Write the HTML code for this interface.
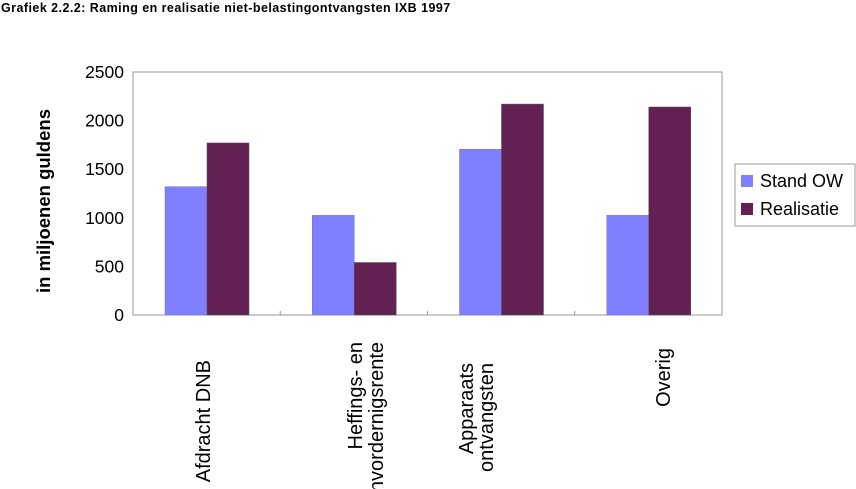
<!DOCTYPE html>
<html><head><meta charset="utf-8"><style>
body{margin:0;background:#fff;}
svg{display:block;font-family:"Liberation Sans",sans-serif;}
</style></head><body>
<svg width="856" height="489">
<text x="1" y="12" font-size="12.5" font-weight="bold" letter-spacing="0.45">Grafiek 2.2.2: Raming en realisatie niet-belastingontvangsten IXB 1997</text>
<g id="plot"></g>
<text transform="translate(50,201) rotate(-90)" text-anchor="middle" font-size="18.5" font-weight="bold">in miljoenen guldens</text>
<rect x="735" y="164" width="120" height="62" fill="#fff" stroke="#999"/>
<rect x="741" y="175" width="12" height="12" fill="#8080ff"/>
<text x="760" y="187" font-size="18">Stand OW</text>
<rect x="741" y="203" width="12" height="12" fill="#632052"/>
<text x="760" y="215" font-size="18">Realisatie</text>
</svg>
<script>
const categories=[["Afdracht DNB"],["Heffings- en","invordernigsrente"],["Apparaats","ontvangsten"],["Overig"]];
const standOW=[1320,1025,1705,1025];
const realisatie=[1770,540,2170,2140];
const yTicks=[0,500,1000,1500,2000,2500];

const NS="http://www.w3.org/2000/svg";
const g=document.getElementById('plot');
const L=133,R=722,T=72,B=315,yMax=2500;
const gw=(R-L)/categories.length;
const y=v=>B-(v/yMax)*(B-T);
const labelTop=[360,342,363,348];
const labelCenterX=[[203],[355,376],[466,486],[663]];
function mk(tag,attrs){const e=document.createElementNS(NS,tag);for(const k in attrs)e.setAttribute(k,attrs[k]);g.appendChild(e);return e;}
let f=mk('rect',{x:L,y:T,width:R-L,height:B-T,fill:'none',stroke:'#999'});


yTicks.forEach(v=>{
  const t=mk('text',{x:L-9,y:y(v)+6,'text-anchor':'end','font-size':'17.5'});
  t.textContent=v;
  
  
});
for(let i=1;i<categories.length;i++){
  const tk=mk('line',{x1:L+gw*i,x2:L+gw*i,y1:B,y2:B-4,stroke:'#999'});
  
  
}
const bw=42,off=32;
categories.forEach((c,i)=>{
  const x0=L+gw*i+off;
  const b1=mk('rect',{x:x0,y:y(standOW[i]),width:bw,height:B-y(standOW[i]),fill:'#8080ff',stroke:'#7070d0','stroke-width':0.5});
  
  
  const b2=mk('rect',{x:x0+bw,y:y(realisatie[i]),width:bw,height:B-y(realisatie[i]),fill:'#632052',stroke:'#555','stroke-width':0.5});
  
  
  c.forEach((line,j)=>{
    const lx=labelCenterX[i][j]+7;
    const t=mk('text',{transform:`translate(${lx},${labelTop[i]}) rotate(-90)`,'text-anchor':'end','font-size':'20'});
    t.textContent=line;
    
    
  });
});
</script>
</body></html>
